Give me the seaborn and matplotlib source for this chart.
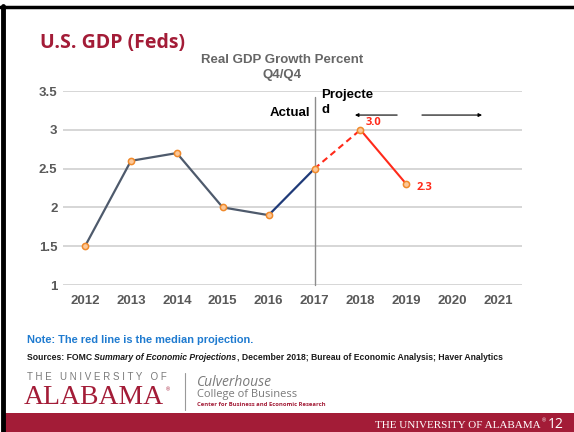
import matplotlib
matplotlib.use("Agg")
import matplotlib.pyplot as plt
import seaborn as sns
import pandas as pd
from matplotlib.lines import Line2D
from matplotlib.patches import Rectangle

# ---- data ----
years_actual = [2012, 2013, 2014, 2015, 2016, 2017]
gdp_actual = [1.5, 2.6, 2.7, 2.0, 1.9, 2.5]
years_proj = [2017, 2018, 2019]
gdp_proj = [2.5, 3.0, 2.3]
x_ticks = [2012, 2013, 2014, 2015, 2016, 2017, 2018, 2019, 2020, 2021]
y_ticks = [1, 1.5, 2, 2.5, 3, 3.5]
y_tick_labels = ["1", "1.5", "2", "2.5", "3", "3.5"]

sns.set_style("white")
plt.rcParams['font.family'] = ['Liberation Sans', 'DejaVu Sans']

W, H = 574, 432
fig = plt.figure(figsize=(W / 100, H / 100), dpi=100)
fig.patch.set_facecolor("white")

def fx(x):
    return x / W

def fy(y):
    return 1 - y / H

# ---- axes ----
ax = fig.add_axes([fx(63), fy(285), fx(522) - fx(63), fy(91) - fy(285)])
ax.set_facecolor("white")

df_a = pd.DataFrame({"year": years_actual, "gdp": gdp_actual})
df_p = pd.DataFrame({"year": years_proj, "gdp": gdp_proj})

slate = "#4e5a6c"
navy = "#1f3a78"
red = "#ff2a1a"

sns.lineplot(data=df_a.iloc[:5], x="year", y="gdp", ax=ax, color=slate, lw=1.6, zorder=3)
sns.lineplot(data=df_a.iloc[4:6], x="year", y="gdp", ax=ax, color=navy, lw=1.6, zorder=3)
sns.lineplot(data=df_p.iloc[:2], x="year", y="gdp", ax=ax, color=red, lw=1.5,
             linestyle=(0, (3, 2)), zorder=3)
sns.lineplot(data=df_p.iloc[1:3], x="year", y="gdp", ax=ax, color=red, lw=1.5, zorder=3)

pts = pd.concat([df_a, df_p.iloc[1:]], ignore_index=True)
sns.scatterplot(data=pts, x="year", y="gdp", ax=ax, s=20, marker="o",
                facecolor="#fcc898", edgecolor="#f08a2c", linewidth=1.1, zorder=4)

ax.set_xlim(2011.52, 2021.52)
ax.set_ylim(1, 3.5)
ax.set_xticks(x_ticks)
ax.set_xticklabels([str(t) for t in x_ticks])
ax.set_yticks(y_ticks)
ax.set_yticklabels(y_tick_labels)
ax.set_xlabel("")
ax.set_ylabel("")
for s in ax.spines.values():
    s.set_visible(False)
ax.grid(axis="y", color="#cccccc", lw=1.1)
ax.grid(axis="x", visible=False)
ax.tick_params(axis="both", length=0, labelcolor="#595959", labelsize=9.5)
ax.tick_params(axis="x", pad=7)
ax.tick_params(axis="y", pad=4)
for lab in ax.get_xticklabels() + ax.get_yticklabels():
    lab.set_fontweight("bold")

# vertical divider
ax.plot([2017, 2017], [1, 3.42], color="#8c8c8c", lw=1, clip_on=False, zorder=2)

# annotations
ax.text(2016.9, 3.22, "Actual", ha="right", va="center", fontsize=9.5,
        fontweight="bold", color="black")
ax.text(2017.15, 3.35, "Projecte\nd", ha="left", va="center", fontsize=9.5,
        fontweight="bold", color="black", linespacing=1.3, clip_on=False)
ax.annotate("", xy=(2017.88, 3.19), xytext=(2018.8, 3.19),
            arrowprops=dict(arrowstyle="-|>", color="black", lw=0.8,
                            mutation_scale=5, shrinkA=0, shrinkB=0))
ax.annotate("", xy=(2020.65, 3.19), xytext=(2019.34, 3.19),
            arrowprops=dict(arrowstyle="-|>", color="black", lw=0.8,
                            mutation_scale=5, shrinkA=0, shrinkB=0))
ax.text(2018.12, 3.09, f"{gdp_proj[1]:.1f}", ha="left", va="center", fontsize=8,
        fontweight="bold", color=red, family="Open Sans")
ax.text(2019.22, 2.26, f"{gdp_proj[2]:.1f}", ha="left", va="center", fontsize=8,
        fontweight="bold", color=red, family="Open Sans")

# ---- slide furniture ----
fig.text(fx(40), fy(43), "U.S. GDP (Feds)", ha="left", va="center", fontsize=14,
         fontweight="bold", color="#a31c37", family="Open Sans")
fig.text(fx(282), fy(67.5), "Real GDP Growth Percent\nQ4/Q4", ha="center", va="center",
         fontsize=9.5, fontweight="bold", color="#666666", linespacing=1.25)

fig.text(fx(27), fy(340), "Note: The red line is the median projection.", ha="left",
         va="center", fontsize=7.9, fontweight="bold", color="#1f7bd0")

# sources line with italic part
renderer = fig.canvas.get_renderer()
parts = [("Sources: FOMC ", "normal"), ("Summary of Economic Projections", "italic"),
         (", December 2018; Bureau of Economic Analysis; Haver Analytics", "normal")]
xpos = fx(27)
for txt, style in parts:
    t = fig.text(xpos, fy(357), txt, ha="left", va="center", fontsize=6.25,
                 fontweight="bold", fontstyle=style, color="#1a1a1a")
    bb = t.get_window_extent(renderer=renderer)
    xpos = bb.x1 / fig.bbox.width

# logo
fig.text(fx(27), fy(377), "T H E   U N I V E R S I T Y   O F", ha="left", va="center",
         fontsize=7, color="#7a7a7a")
fig.text(fx(24), fy(398), "ALABAMA", ha="left", va="center", fontsize=20,
         color="#a31c37", family="Liberation Serif")
fig.text(fx(166), fy(390), "®", ha="left", va="center", fontsize=4, color="#a31c37")
fig.add_artist(Line2D([fx(185), fx(185)], [fy(373), fy(410)], color="#999999", lw=0.8))
fig.text(fx(197), fy(382), "Culverhouse", ha="left", va="center", fontsize=10,
         fontstyle="italic", color="#7a7a7a", family="Open Sans")
fig.text(fx(197), fy(394), "College of Business", ha="left", va="center", fontsize=8,
         color="#7a7a7a", family="Open Sans")
fig.text(fx(197), fy(405), "Center for Business and Economic Research", ha="left",
         va="center", fontsize=4.2, fontweight="bold", color="#a31c37", family="Open Sans")

# bottom band
fig.add_artist(Rectangle((fx(5), 0), 1 - fx(5), fy(413), transform=fig.transFigure,
                         facecolor="#a31c37", edgecolor="none"))
fig.text(fx(541), fy(425), "THE UNIVERSITY OF ALABAMA", ha="right", va="center",
         fontsize=8, color="white", family="Liberation Serif")
fig.text(fx(542), fy(421), "®", ha="left", va="center", fontsize=4, color="white")
fig.text(fx(564), fy(424), "12", ha="right", va="center", fontsize=10,
         color="white", family="Open Sans")

# border
fig.add_artist(Line2D([0, 1], [fy(7), fy(7)], color="black", lw=2.5))
fig.add_artist(Line2D([fx(2.5), fx(2.5)], [0, fy(6)], color="black", lw=3.5))

fig.savefig("out.png", dpi=100, facecolor="white")
